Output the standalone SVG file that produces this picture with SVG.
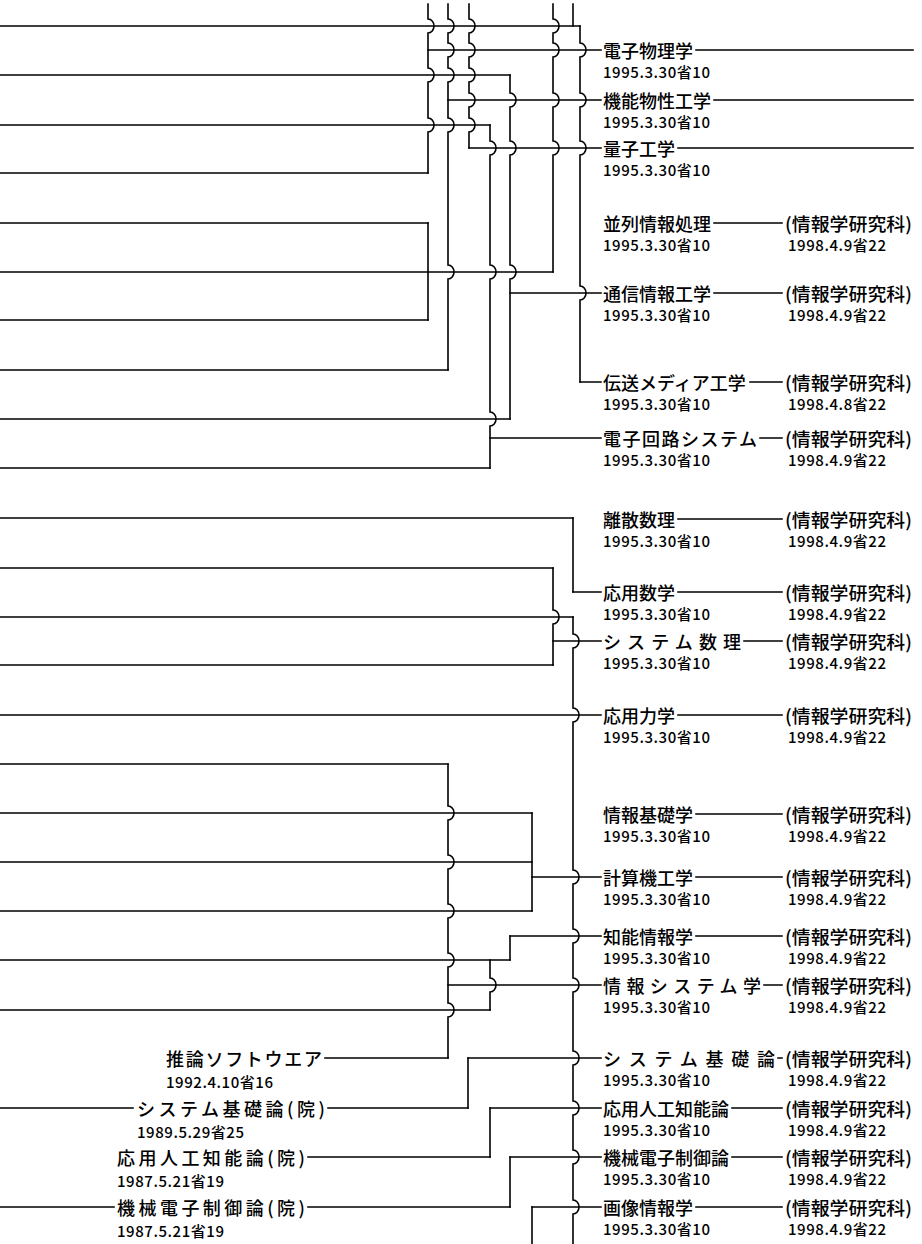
<svg xmlns="http://www.w3.org/2000/svg" width="922" height="1244" viewBox="0 0 922 1244">
<style>
.ln{stroke:#000;stroke-width:1.6;fill:none;stroke-linecap:square;stroke-linejoin:miter}
.nm{font-family:"Noto Sans CJK JP","Noto Sans CJK SC",sans-serif;font-size:18px;font-weight:500;fill:#000;dominant-baseline:central}
.dt{font-family:"Noto Sans CJK JP","Noto Sans CJK SC",sans-serif;font-size:15px;font-weight:500;fill:#000;dominant-baseline:central}
</style>
<rect width="922" height="1244" fill="#fff"/>
<g id="connectors">
<path class="ln" d="M428,4 V19 A6 7 0 0 1 428,33 V68 A6 7 0 0 1 428,82 V118 A6 7 0 0 1 428,132 V173"/>
<path class="ln" d="M448,4 V19 A6 7 0 0 1 448,33 V43 A6 7 0 0 1 448,57 V68 A6 7 0 0 1 448,82 V118 A6 7 0 0 1 448,132 V265 A6 7 0 0 1 448,279 V370"/>
<path class="ln" d="M469,4 V19 A6 7 0 0 1 469,33 V43 A6 7 0 0 1 469,57 V68 A6 7 0 0 1 469,82 V93 A6 7 0 0 1 469,107 V118 A6 7 0 0 1 469,132 V148"/>
<path class="ln" d="M553,4 V19 A6 7 0 0 1 553,33 V43 A6 7 0 0 1 553,57 V93 A6 7 0 0 1 553,107 V141 A6 7 0 0 1 553,155 V272"/>
<path class="ln" d="M573,4 V26"/>
<path class="ln" d="M580,26 V43 A6 7 0 0 1 580,57 V93 A6 7 0 0 1 580,107 V141 A6 7 0 0 1 580,155 V286 A6 7 0 0 1 580,300 V382"/>
<path class="ln" d="M510,75 V93 A6 7 0 0 1 510,107 V141 A6 7 0 0 1 510,155 V265 A6 7 0 0 1 510,279 V419"/>
<path class="ln" d="M490,125 V141 A6 7 0 0 1 490,155 V265 A6 7 0 0 1 490,279 V412 A6 7 0 0 1 490,426 V468"/>
<path class="ln" d="M428,223 V320"/>
<path class="ln" d="M573,518 V592"/>
<path class="ln" d="M553,568 V610 A6 7 0 0 1 553,624 V665"/>
<path class="ln" d="M573,617 V634 A6 7 0 0 1 573,648 V708 A6 7 0 0 1 573,722 V870 A6 7 0 0 1 573,884 V929 A6 7 0 0 1 573,943 V978 A6 7 0 0 1 573,992 V1051 A6 7 0 0 1 573,1065 V1101 A6 7 0 0 1 573,1115 V1150 A6 7 0 0 1 573,1164 V1200 A6 7 0 0 1 573,1214 V1244"/>
<path class="ln" d="M448,764 V806 A6 7 0 0 1 448,820 V855 A6 7 0 0 1 448,869 V904 A6 7 0 0 1 448,918 V953 A6 7 0 0 1 448,967 V1003 A6 7 0 0 1 448,1017 V1058"/>
<path class="ln" d="M532,813 V911"/>
<path class="ln" d="M510,936 V960"/>
<path class="ln" d="M490,960 V978 A6 7 0 0 1 490,992 V1010"/>
<path class="ln" d="M468,1058 V1108"/>
<path class="ln" d="M490,1108 V1157"/>
<path class="ln" d="M510,1157 V1207"/>
<path class="ln" d="M532,1207 V1244"/>
<path class="ln" d="M0,26 H580 M428,50 H601 M0,75 H510 M448,100 H601 M0,125 H490 M469,148 H601 M0,173 H428"/>
<path class="ln" d="M0,223 H428 M0,272 H553 M0,320 H428 M510,293 H601 M0,370 H448 M580,382 H601"/>
<path class="ln" d="M0,419 H510 M490,438 H601 M0,468 H490"/>
<path class="ln" d="M0,518 H573 M0,568 H553 M573,592 H601 M0,617 H573 M553,641 H601 M0,665 H553 M0,715 H601"/>
<path class="ln" d="M0,764 H448 M0,813 H532 M0,862 H532 M0,911 H532 M532,877 H601 M510,936 H601 M0,960 H510 M448,985 H601 M0,1010 H490"/>
<path class="ln" d="M325,1058 H448 M468,1058 H601 M0,1108 H133 M328,1108 H468 M490,1108 H601 M308,1157 H490 M510,1157 H601 M0,1207 H114 M308,1207 H510 M532,1207 H601"/>
<path class="ln" d="M696,50 H913 M714,100 H913 M678,148 H913"/>
<path class="ln" d="M714,223 H782 M714,293 H782 M750,382 H782 M760,438 H782 M678,519 H782 M678,592 H782 M744,641 H782 M678,715 H782"/>
<path class="ln" d="M696,814 H782 M696,877 H782 M696,936 H782 M764,985 H782 M778,1058 H782 M732,1108 H782 M732,1157 H782 M696,1207 H782"/>
</g>
<g id="n-denshibutsuri"><text class="nm" x="603" y="50">電子物理学</text><text class="dt" x="603" y="71" textLength="107" lengthAdjust="spacing">1995.3.30省10</text></g>
<g id="n-kinoubussei"><text class="nm" x="603" y="100">機能物性工学</text><text class="dt" x="603" y="121" textLength="107" lengthAdjust="spacing">1995.3.30省10</text></g>
<g id="n-ryoushi"><text class="nm" x="603" y="148">量子工学</text><text class="dt" x="603" y="169" textLength="107" lengthAdjust="spacing">1995.3.30省10</text></g>
<g id="n-heiretsu"><text class="nm" x="603" y="223">並列情報処理</text><text class="dt" x="603" y="244" textLength="107" lengthAdjust="spacing">1995.3.30省10</text><text class="nm" x="785" y="223" textLength="127" lengthAdjust="spacingAndGlyphs">(情報学研究科)</text><text class="dt" x="788" y="244" textLength="98" lengthAdjust="spacing">1998.4.9省22</text></g>
<g id="n-tsushin"><text class="nm" x="603" y="293">通信情報工学</text><text class="dt" x="603" y="314" textLength="107" lengthAdjust="spacing">1995.3.30省10</text><text class="nm" x="785" y="293" textLength="127" lengthAdjust="spacingAndGlyphs">(情報学研究科)</text><text class="dt" x="788" y="314" textLength="98" lengthAdjust="spacing">1998.4.9省22</text></g>
<g id="n-densou"><text class="nm" x="603" y="382">伝送メディア工学</text><text class="dt" x="603" y="403" textLength="107" lengthAdjust="spacing">1995.3.30省10</text><text class="nm" x="785" y="382" textLength="127" lengthAdjust="spacingAndGlyphs">(情報学研究科)</text><text class="dt" x="788" y="403" textLength="98" lengthAdjust="spacing">1998.4.8省22</text></g>
<g id="n-denshikairo"><text class="nm" x="603" y="438" textLength="154" lengthAdjust="spacing">電子回路システム</text><text class="dt" x="603" y="459" textLength="107" lengthAdjust="spacing">1995.3.30省10</text><text class="nm" x="785" y="438" textLength="127" lengthAdjust="spacingAndGlyphs">(情報学研究科)</text><text class="dt" x="788" y="459" textLength="98" lengthAdjust="spacing">1998.4.9省22</text></g>
<g id="n-risan"><text class="nm" x="603" y="519">離散数理</text><text class="dt" x="603" y="540" textLength="107" lengthAdjust="spacing">1995.3.30省10</text><text class="nm" x="785" y="519" textLength="127" lengthAdjust="spacingAndGlyphs">(情報学研究科)</text><text class="dt" x="788" y="540" textLength="98" lengthAdjust="spacing">1998.4.9省22</text></g>
<g id="n-ouyousuugaku"><text class="nm" x="603" y="592">応用数学</text><text class="dt" x="603" y="613" textLength="107" lengthAdjust="spacing">1995.3.30省10</text><text class="nm" x="785" y="592" textLength="127" lengthAdjust="spacingAndGlyphs">(情報学研究科)</text><text class="dt" x="788" y="613" textLength="98" lengthAdjust="spacing">1998.4.9省22</text></g>
<g id="n-systemsuuri"><text class="nm" x="603" y="641" textLength="138" lengthAdjust="spacing">システム数理</text><text class="dt" x="603" y="662" textLength="107" lengthAdjust="spacing">1995.3.30省10</text><text class="nm" x="785" y="641" textLength="127" lengthAdjust="spacingAndGlyphs">(情報学研究科)</text><text class="dt" x="788" y="662" textLength="98" lengthAdjust="spacing">1998.4.9省22</text></g>
<g id="n-ouyourikigaku"><text class="nm" x="603" y="715">応用力学</text><text class="dt" x="603" y="736" textLength="107" lengthAdjust="spacing">1995.3.30省10</text><text class="nm" x="785" y="715" textLength="127" lengthAdjust="spacingAndGlyphs">(情報学研究科)</text><text class="dt" x="788" y="736" textLength="98" lengthAdjust="spacing">1998.4.9省22</text></g>
<g id="n-jouhoukiso"><text class="nm" x="603" y="814">情報基礎学</text><text class="dt" x="603" y="835" textLength="107" lengthAdjust="spacing">1995.3.30省10</text><text class="nm" x="785" y="814" textLength="127" lengthAdjust="spacingAndGlyphs">(情報学研究科)</text><text class="dt" x="788" y="835" textLength="98" lengthAdjust="spacing">1998.4.9省22</text></g>
<g id="n-keisanki"><text class="nm" x="603" y="877">計算機工学</text><text class="dt" x="603" y="898" textLength="107" lengthAdjust="spacing">1995.3.30省10</text><text class="nm" x="785" y="877" textLength="127" lengthAdjust="spacingAndGlyphs">(情報学研究科)</text><text class="dt" x="788" y="898" textLength="98" lengthAdjust="spacing">1998.4.9省22</text></g>
<g id="n-chinou"><text class="nm" x="603" y="936">知能情報学</text><text class="dt" x="603" y="957" textLength="107" lengthAdjust="spacing">1995.3.30省10</text><text class="nm" x="785" y="936" textLength="127" lengthAdjust="spacingAndGlyphs">(情報学研究科)</text><text class="dt" x="788" y="957" textLength="98" lengthAdjust="spacing">1998.4.9省22</text></g>
<g id="n-jouhousystem"><text class="nm" x="603" y="985" textLength="158" lengthAdjust="spacing">情報システム学</text><text class="dt" x="603" y="1006" textLength="107" lengthAdjust="spacing">1995.3.30省10</text><text class="nm" x="785" y="985" textLength="127" lengthAdjust="spacingAndGlyphs">(情報学研究科)</text><text class="dt" x="788" y="1006" textLength="98" lengthAdjust="spacing">1998.4.9省22</text></g>
<g id="n-systemkiso"><text class="nm" x="603" y="1058" textLength="172" lengthAdjust="spacing">システム基礎論</text><text class="dt" x="603" y="1079" textLength="107" lengthAdjust="spacing">1995.3.30省10</text><text class="nm" x="785" y="1058" textLength="127" lengthAdjust="spacingAndGlyphs">(情報学研究科)</text><text class="dt" x="788" y="1079" textLength="98" lengthAdjust="spacing">1998.4.9省22</text></g>
<g id="n-ouyoujinkou"><text class="nm" x="603" y="1108">応用人工知能論</text><text class="dt" x="603" y="1129" textLength="107" lengthAdjust="spacing">1995.3.30省10</text><text class="nm" x="785" y="1108" textLength="127" lengthAdjust="spacingAndGlyphs">(情報学研究科)</text><text class="dt" x="788" y="1129" textLength="98" lengthAdjust="spacing">1998.4.9省22</text></g>
<g id="n-kikaidenshi"><text class="nm" x="603" y="1157">機械電子制御論</text><text class="dt" x="603" y="1178" textLength="107" lengthAdjust="spacing">1995.3.30省10</text><text class="nm" x="785" y="1157" textLength="127" lengthAdjust="spacingAndGlyphs">(情報学研究科)</text><text class="dt" x="788" y="1178" textLength="98" lengthAdjust="spacing">1998.4.9省22</text></g>
<g id="n-gazou"><text class="nm" x="603" y="1207">画像情報学</text><text class="dt" x="603" y="1228" textLength="107" lengthAdjust="spacing">1995.3.30省10</text><text class="nm" x="785" y="1207" textLength="127" lengthAdjust="spacingAndGlyphs">(情報学研究科)</text><text class="dt" x="788" y="1228" textLength="98" lengthAdjust="spacing">1998.4.9省22</text></g>
<g id="n-suiron"><text class="nm" x="166" y="1058" textLength="156" lengthAdjust="spacing">推論ソフトウエア</text><text class="dt" x="166" y="1081" textLength="107" lengthAdjust="spacing">1992.4.10省16</text></g>
<g id="n-systemkiso-in"><text class="nm" x="137" y="1108" textLength="188" lengthAdjust="spacing">システム基礎論(院)</text><text class="dt" x="137" y="1131" textLength="107" lengthAdjust="spacing">1989.5.29省25</text></g>
<g id="n-ouyoujinkou-in"><text class="nm" x="117" y="1157" textLength="188" lengthAdjust="spacing">応用人工知能論(院)</text><text class="dt" x="117" y="1180" textLength="107" lengthAdjust="spacing">1987.5.21省19</text></g>
<g id="n-kikaidenshi-in"><text class="nm" x="117" y="1207" textLength="188" lengthAdjust="spacing">機械電子制御論(院)</text><text class="dt" x="117" y="1230" textLength="107" lengthAdjust="spacing">1987.5.21省19</text></g>
</svg>
